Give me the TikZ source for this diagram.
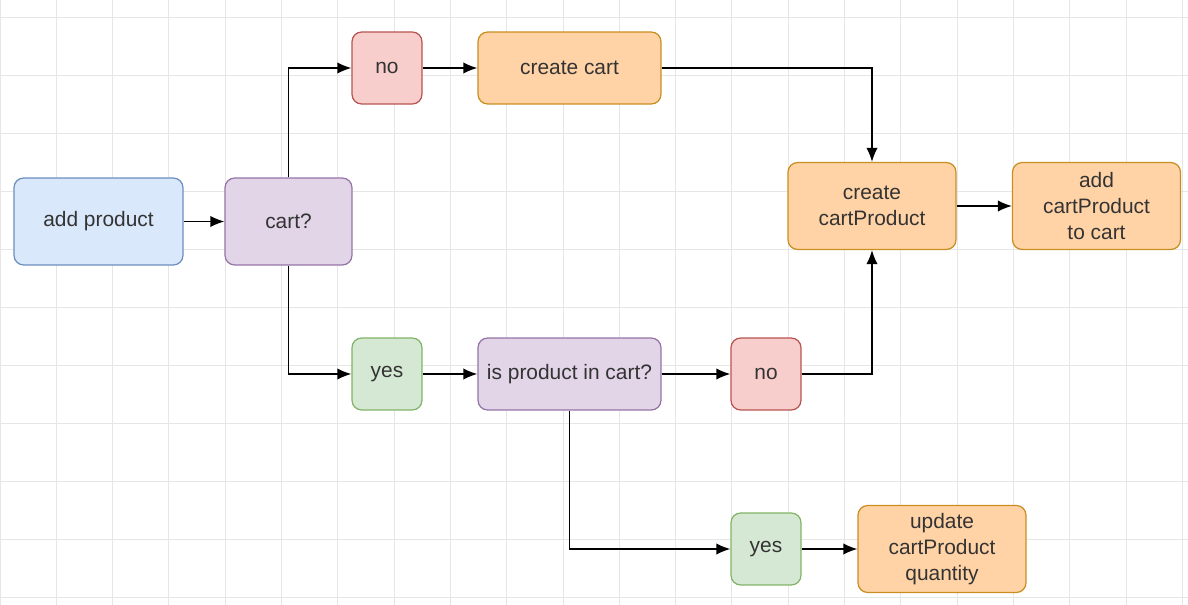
\documentclass[tikz,border=0pt]{standalone}
\usepackage{fontspec}
\setmainfont{Liberation Sans}
\usetikzlibrary{arrows.meta}

\definecolor{blueFill}{HTML}{DAE8FC}
\definecolor{blueLine}{HTML}{6C8EBF}
\definecolor{purpleFill}{HTML}{E1D5E7}
\definecolor{purpleLine}{HTML}{9673A6}
\definecolor{redFill}{HTML}{F8CECC}
\definecolor{redLine}{HTML}{B85450}
\definecolor{greenFill}{HTML}{D5E8D4}
\definecolor{greenLine}{HTML}{82B366}
\definecolor{orangeFill}{HTML}{FFD3A6}
\definecolor{orangeLine}{HTML}{C98D20}
\definecolor{gridGray}{HTML}{E6E6E6}

\begin{document}
\begin{tikzpicture}[x=0.02cm,y=-0.02cm]
    \tikzset{%
        >={Latex[length=8pt,width=6.5pt]}, % option for nice arrows
        box/.style={draw,rounded corners=5.5pt,line width=0.7pt,align=center,
                inner sep=0pt,text=black!80,font=\fontsize{11.9}{14.7}\selectfont},
        startbox/.style={box,fill=blueFill,draw=blueLine},
        askbox/.style={box,fill=purpleFill,draw=purpleLine},
        nobox/.style={box,fill=redFill,draw=redLine},
        yesbox/.style={box,fill=greenFill,draw=greenLine},
        actbox/.style={box,fill=orangeFill,draw=orangeLine},
        small/.style={minimum width=1.4cm,minimum height=1.44cm},
        long/.style={minimum width=3.66cm,minimum height=1.44cm},
        tall/.style={minimum width=3.36cm,minimum height=1.74cm},
        link/.style={->,line width=0.85pt},
        gridline/.style={gridGray,line width=0.5pt}
    }

    %% canvas and grid

    \useasboundingbox (0,0) rectangle (1188,605);
    \fill[white] (0,0) rectangle (1188,605);
    \foreach \gx in {0,...,21} \draw[gridline] (\gx*56.3,0) -- (\gx*56.3,605);
    \foreach \gy in {0,...,10} \draw[gridline] (0,17+\gy*58) -- (1188,17+\gy*58);

    %% nodes

    \node[startbox,minimum width=3.38cm,minimum height=1.74cm] (add) at (98.5,221.5) {add product};
    \node[askbox,minimum width=2.54cm,minimum height=1.74cm] (cart) at (288.5,221.5) {cart?};
    \node[nobox,small] (noCart) at (387,68) {no};
    \node[actbox,long] (createCart) at (569.5,68) {create cart};
    \node[yesbox,small] (yesCart) at (387,374) {yes};
    \node[askbox,long] (inCart) at (569.5,374) {is product in cart?};
    \node[nobox,small] (noProduct) at (766,374) {no};
    \node[yesbox,small] (yesProduct) at (766,549) {yes};
    \node[actbox,tall] (createCP) at (872,206) {create\\cartProduct};
    \node[actbox,tall] (addCP) at (1096.5,206) {add\\cartProduct\\to cart};
    \node[actbox,tall] (updateCP) at (942,549) {update\\cartProduct\\quantity};

    %% connectors

    \draw[link] (add) -- (cart);
    \draw[link] (cart.north) |- (noCart);
    \draw[link] (cart.south) |- (yesCart);
    \draw[link] (noCart) -- (createCart);
    \draw[link] (createCart) -| (createCP);
    \draw[link] (yesCart) -- (inCart);
    \draw[link] (inCart) -- (noProduct);
    \draw[link] (noProduct) -| (createCP);
    \draw[link] (inCart.south) |- (yesProduct);
    \draw[link] (yesProduct) -- (updateCP);
    \draw[link] (createCP) -- (addCP);
\end{tikzpicture}
\end{document}
